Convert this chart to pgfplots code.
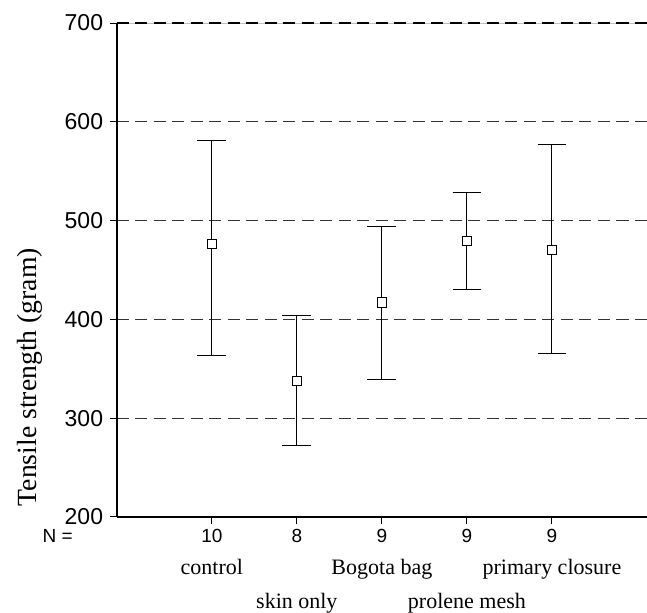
\documentclass[border=0pt]{standalone}
\usepackage{fontspec}
\setmainfont{Liberation Serif}
\setsansfont{Liberation Sans}
\usepackage{pgfplots}
\pgfplotsset{compat=1.18}
\pgfplotstableread{
x  m     ep    em
1  476   105.5 112.5
2  337.5 66.5  65.5
3  417   77    77.5
4  479   49    49
5  470   107   105
}\strength
\begin{document}
\begin{tikzpicture}
\begin{axis}[
    at={(0,0)}, anchor=south west,
    scale only axis, width=265pt, height=246.85pt,
    xmin=-0.118, xmax=6.118, ymin=200, ymax=700,
    axis x line*=bottom, axis y line*=left,
    axis line style={-, black, line width=0.75pt},
    xtick={1,...,5}, xticklabels={10,8,9,9,9},
    ytick={200,300,...,700},
    tick align=outside, major tick length=3.3pt,
    tick style={black, line width=0.5pt},
    ymajorgrids,
    grid style={black!80, dash pattern=on 6pt off 3.25pt, line width=0.5pt},
    /pgf/number format/assume math mode=true,
    yticklabel style={font=\sffamily\fontsize{11.5}{13}\selectfont},
    xticklabel style={font=\sffamily\fontsize{9.5}{11}\selectfont, anchor=base, yshift=-9.5pt},
    ylabel={Tensile strength (gram)},
    ylabel style={at={(axis description cs:-0.1504,0.2830)}, anchor=base,
      font=\fontsize{13.85}{16}\selectfont},
    clip=false,
  ]
  \draw[gray!50, line width=0.5pt] (rel axis cs:1,0) -- (rel axis cs:1,1) -- (rel axis cs:0,1);
  \draw[black, dash pattern=on 6pt off 3.25pt, line width=0.6pt] (rel axis cs:0,1) -- (rel axis cs:1,1);
  \addplot[only marks, black, mark=square*, mark size=2.33pt,
    mark options={fill=white, line width=0.5pt},
    error bars/.cd, y dir=both, y explicit,
    error bar style={line width=0.5pt, black},
    error mark options={rotate=90, mark size=7.2pt, line width=0.5pt}]
    table[x=x, y=m, y error plus=ep, y error minus=em] {\strength};
  % group sizes and group names under the axis
  \node[anchor=base, font=\sffamily\fontsize{9.5}{11}\selectfont]
    at (axis description cs:-0.1113,0) [yshift=-12.8pt] {N =};
  \node[anchor=base, font=\fontsize{11}{13}\selectfont] at (axis cs:1,200) [yshift=-28.8pt] {control};
  \node[anchor=base, font=\fontsize{11}{13}\selectfont] at (axis cs:3,200) [yshift=-28.8pt] {Bogota bag};
  \node[anchor=base, font=\fontsize{11}{13}\selectfont] at (axis cs:5,200) [yshift=-28.8pt] {primary closure};
  \node[anchor=base, font=\fontsize{11}{13}\selectfont] at (axis cs:2,200) [yshift=-45.65pt] {skin only};
  \node[anchor=base, font=\fontsize{11}{13}\selectfont] at (axis cs:4,200) [yshift=-45.65pt] {prolene mesh};
\end{axis}
\pgfresetboundingbox
\path[use as bounding box] (-58.35pt,-47.65pt) rectangle (265pt,258.35pt);
\end{tikzpicture}
\end{document}
